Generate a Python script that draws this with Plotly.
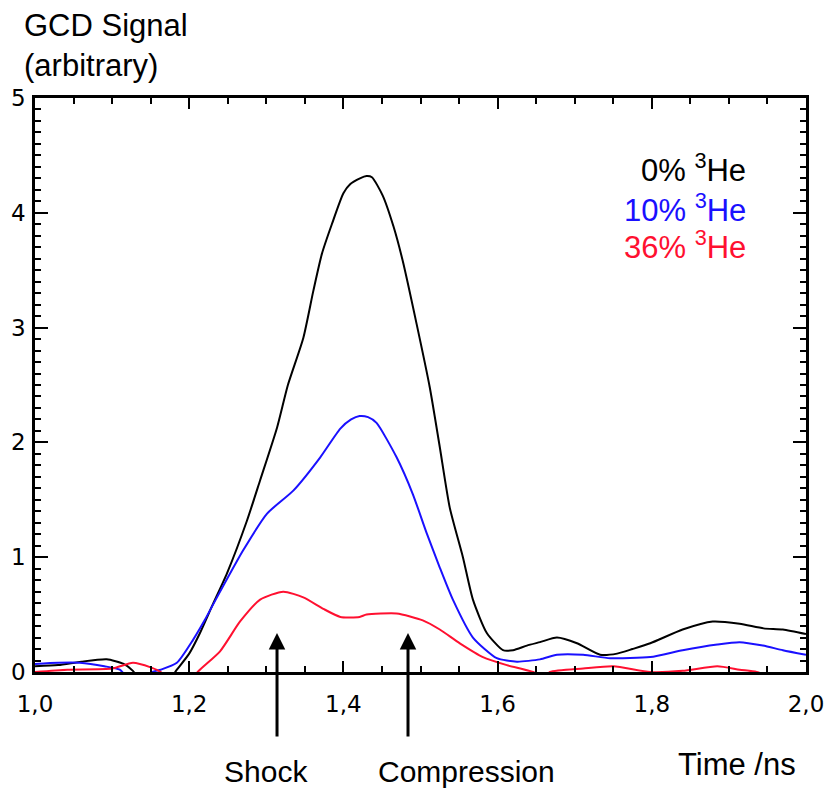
import plotly.graph_objects as go

# Time (ns) and signal values
x_black = [1.0, 1.03, 1.06, 1.093, 1.115, 1.127, 1.14, 1.17, 1.184, 1.2, 1.214, 1.23, 1.249, 1.275, 1.292,
           1.314, 1.328, 1.348, 1.361, 1.372, 1.385, 1.400, 1.409, 1.4215, 1.43, 1.437, 1.451, 1.465,
           1.477, 1.495, 1.512, 1.525, 1.538, 1.555, 1.568, 1.586, 1.607, 1.62, 1.638, 1.655, 1.677,
           1.703, 1.733, 1.755, 1.775, 1.798, 1.84, 1.879, 1.914, 1.945, 1.97, 2.0]
y_black = [0.05, 0.06, 0.09, 0.11, 0.07, 0.01, -0.1, -0.1, 0.02, 0.16, 0.34, 0.58, 0.86, 1.32, 1.67,
           2.13, 2.50, 2.91, 3.32, 3.64, 3.90, 4.17, 4.25, 4.30, 4.32, 4.31, 4.15, 3.88,
           3.58, 3.03, 2.48, 1.96, 1.43, 1.00, 0.63, 0.34, 0.19, 0.19, 0.23, 0.26, 0.30,
           0.25, 0.15, 0.16, 0.20, 0.25, 0.37, 0.44, 0.42, 0.38, 0.37, 0.33]

x_blue = [1.0, 1.03, 1.058, 1.09, 1.11, 1.12, 1.14, 1.152, 1.163, 1.184, 1.205, 1.22, 1.236, 1.27, 1.301,
          1.335, 1.37, 1.396, 1.41, 1.421, 1.432, 1.443, 1.469, 1.49, 1.508, 1.525, 1.542, 1.568,
          1.599, 1.625, 1.655, 1.677, 1.711, 1.746, 1.798, 1.84, 1.885, 1.914, 1.944, 1.97, 2.0]
y_blue = [0.07, 0.08, 0.08, 0.05, 0.02, -0.05, -0.1, 0.0, 0.02, 0.08, 0.28, 0.45, 0.65, 1.06, 1.38,
          1.58, 1.87, 2.12, 2.20, 2.23, 2.22, 2.17, 1.87, 1.55, 1.21, 0.91, 0.63, 0.30,
          0.12, 0.09, 0.11, 0.15, 0.15, 0.12, 0.13, 0.19, 0.24, 0.26, 0.23, 0.19, 0.15]

x_red = [1.0, 1.042, 1.1, 1.127, 1.15, 1.163, 1.18, 1.2, 1.211, 1.24, 1.266, 1.292, 1.322, 1.348, 1.374,
         1.396, 1.421, 1.43, 1.469, 1.503, 1.525, 1.551, 1.581, 1.612, 1.646, 1.66, 1.668, 1.711,
         1.75, 1.798, 1.84, 1.885, 1.914, 1.936, 1.96, 2.0]
y_red = [0.0, 0.02, 0.03, 0.08, 0.04, 0.0, -0.1, -0.1, 0.0, 0.18, 0.44, 0.63, 0.70, 0.65, 0.55,
         0.48, 0.48, 0.50, 0.51, 0.45, 0.37, 0.25, 0.13, 0.06, 0.0, -0.05, 0.0, 0.03,
         0.05, 0.0, 0.01, 0.05, 0.02, 0.0, -0.05, -0.05]

x_tickvals = [1.0, 1.2, 1.4, 1.6, 1.8, 2.0]
x_ticktext = ["1,0", "1,2", "1,4", "1,6", "1,8", "2,0"]
y_tickvals = [0, 1, 2, 3, 4, 5]
y_ticktext = ["0", "1", "2", "3", "4", "5"]

legend_labels = ["0% <sup>3</sup>He", "10% <sup>3</sup>He", "36% <sup>3</sup>He"]
legend_colors = ["black", "#1a10ff", "#ff1030"]

arrow_x = [1.3139, 1.4838]
arrow_labels = ["Shock", "Compression"]
arrow_label_x = [1.2996, 1.5603]

fig = go.Figure()
for xs, ys, c in [(x_black, y_black, legend_colors[0]), (x_blue, y_blue, legend_colors[1]),
                  (x_red, y_red, legend_colors[2])]:
    fig.add_trace(go.Scatter(x=xs, y=ys, mode="lines",
                             line=dict(color=c, width=2, shape="spline", smoothing=0.6),
                             showlegend=False, hoverinfo="skip"))

TXT = "Liberation Sans, Arial, sans-serif"
TICKF = dict(family="DejaVu Sans", size=23, color="black")

axis_common = dict(showgrid=False, zeroline=False, showline=True, linecolor="black", linewidth=2.5,
                   mirror="allticks", ticks="inside", tickcolor="black", tickwidth=2, tickfont=TICKF,
                   automargin=False)

fig.update_xaxes(range=[1, 2], tickvals=x_tickvals, ticktext=x_ticktext, ticklen=11,
                 ticklabelstandoff=10,
                 minor=dict(dtick=0.05, ticks="inside", ticklen=6, tickcolor="black", tickwidth=2),
                 **axis_common)
fig.update_yaxes(range=[0, 5], tickvals=y_tickvals, ticktext=y_ticktext, ticklen=13,
                 ticklabelstandoff=2,
                 minor=dict(dtick=0.1, ticks="inside", ticklen=6, tickcolor="black", tickwidth=2),
                 **axis_common)

F = dict(family=TXT, size=31, color="black")
F2 = dict(family=TXT, size=30, color="black")
ann = []
ann.append(dict(xref="paper", yref="paper", x=-0.017, y=1.0, yshift=73, xanchor="left", yanchor="middle",
                text="GCD Signal", showarrow=False, font=F))
ann.append(dict(xref="paper", yref="paper", x=-0.017, y=1.0, yshift=33, xanchor="left", yanchor="middle",
                text="(arbitrary)", showarrow=False, font=F))
for lab, col, ys in zip(legend_labels, legend_colors, [-70, -110, -147]):
    ann.append(dict(xref="paper", yref="paper", x=0.925, y=1.0, yshift=ys, xanchor="right", yanchor="middle",
                    text=lab, showarrow=False, font=dict(family=TXT, size=31, color=col)))
for xv, lx, lab in zip(arrow_x, arrow_label_x, arrow_labels):
    ann.append(dict(x=xv, y=0.34, xref="x", yref="y", ax=0, ay=105, axref="pixel", ayref="pixel",
                    text="", showarrow=True, arrowhead=2, arrowsize=1.1, arrowwidth=3, arrowcolor="black"))
    ann.append(dict(x=lx, y=0, xref="x", yref="y", yshift=-99, xanchor="center", yanchor="middle",
                    text=lab, showarrow=False, font=F2))
ann.append(dict(xref="paper", yref="y", x=0.9896, y=0, yshift=-92, xanchor="right", yanchor="middle",
                text="Time /ns", showarrow=False, font=F))

fig.update_layout(width=826, height=790, margin=dict(l=35, r=20, t=98, b=118),
                  plot_bgcolor="white", paper_bgcolor="white", annotations=ann)

fig.write_html("out.html")
